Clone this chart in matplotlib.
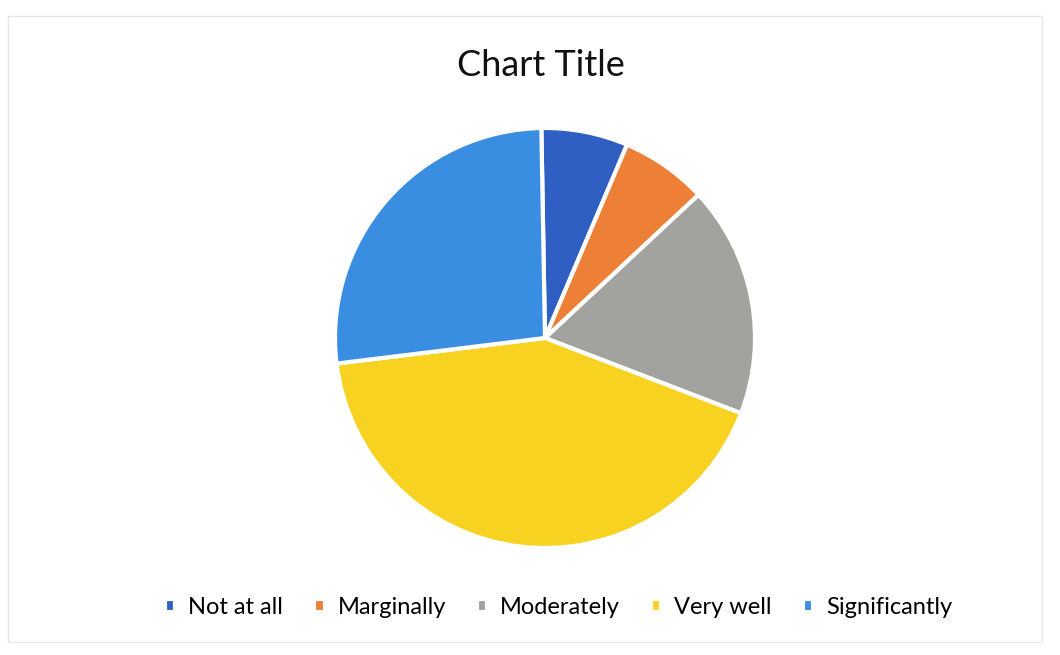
import matplotlib

matplotlib.use("Agg")

import matplotlib.pyplot as plt
from matplotlib.patches import Rectangle

# --- Data ---
labels = ["Not at all", "Marginally", "Moderately", "Very well", "Significantly"]
counts = [3, 3, 8, 19, 12]
colors = ["#2F5FC2", "#EE7F36", "#A2A39E", "#F8D221", "#3A8EE2"]

plt.rcParams["font.family"] = ["Lato", "DejaVu Sans"]

fig = plt.figure(figsize=(10.6, 6.55), dpi=100)
fig.patch.set_facecolor("white")

# faint chart-area border
fig.patches.append(
    Rectangle((0.008, 0.02), 0.975, 0.955, transform=fig.transFigure,
              fill=False, edgecolor="#E6E6E6", linewidth=1)
)

w = 420 / 1060
h = 420 / 655
cx, cy = 545 / 1060, 1 - 338 / 655
ax = fig.add_axes([cx - w / 2, cy - h / 2, w, h])

wedges, _ = ax.pie(
    counts,
    colors=colors,
    startangle=91,
    counterclock=False,
    radius=1,
    wedgeprops={"edgecolor": "white", "linewidth": 3},
)
ax.set_xlim(-1, 1)
ax.set_ylim(-1, 1)
ax.set_aspect("equal")

fig.text(0.51, 0.9, "Chart Title", ha="center", va="center",
         fontsize=26, color="#111111")

fig.legend(
    wedges,
    labels,
    loc="center",
    bbox_to_anchor=(0.527, 0.073),
    ncol=5,
    frameon=False,
    fontsize=17,
    handlelength=0.45,
    handleheight=0.45,
    handletextpad=0.55,
    columnspacing=1.3,
)

fig.savefig("out.png", dpi=100)
